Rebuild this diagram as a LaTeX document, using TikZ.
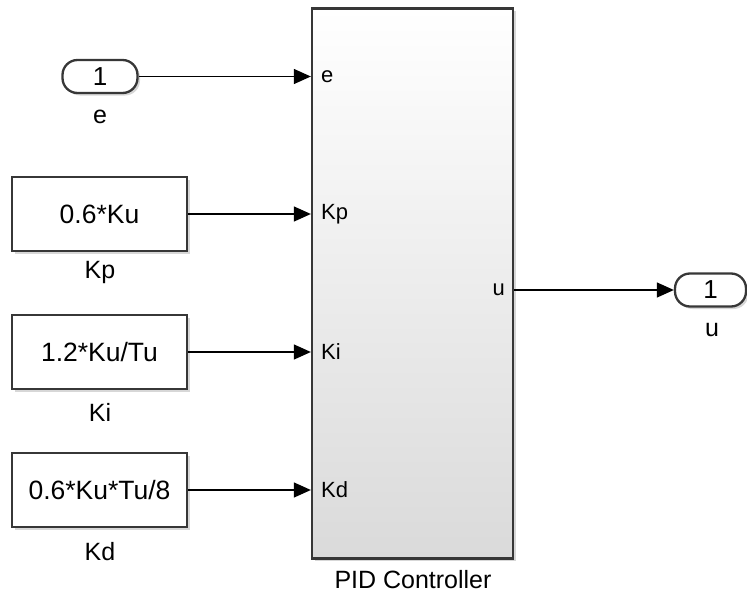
\documentclass[tikz,border=0pt]{standalone}
\usepackage{fontspec}
\setmainfont{Liberation Sans}
\usetikzlibrary{arrows.meta,shadows}
\definecolor{blkborder}{RGB}{55,55,55}
\definecolor{pidbottom}{RGB}{218,218,218}
\tikzset{
  shad/.style={drop shadow={shadow xshift=2.5pt,shadow yshift=-2.5pt,opacity=0.35,fill=black!45}},
  constblk/.style={draw=blkborder,line width=2.3pt,fill=white,shad,minimum width=175pt,minimum height=74pt,inner sep=0pt,font=\fontsize{26.5}{31}\selectfont},
  portblk/.style={draw=blkborder,line width=2.3pt,fill=white,shad,rounded corners=15pt,minimum width=75pt,minimum height=33pt,inner sep=0pt,font=\fontsize{26}{30}\selectfont},
  pidblk/.style={draw=blkborder,line width=2.3pt,top color=white,bottom color=pidbottom,shad,minimum width=201pt,minimum height=550pt,inner sep=0pt},
  lbl/.style={font=\fontsize{25}{30}\selectfont,inner sep=0pt},
  plbl/.style={font=\fontsize{22}{26}\selectfont,inner sep=0pt},
  conn/.style={line width=1.3pt,-{Triangle[length=17pt,width=15pt]}}
}
\begin{document}
\begin{tikzpicture}[x=1pt,y=-1pt]
\useasboundingbox (0,0) rectangle (747,594);
% PID block
\node[pidblk] (pid) at (412.5,283.5) {};
\node[lbl] (pidl) at (413,580) {PID Controller};
% port labels inside
\node[plbl,anchor=west] (pe) at (321,77) {e};
\node[plbl,anchor=west] (pkp) at (321,214) {Kp};
\node[plbl,anchor=west] (pki) at (321,352) {Ki};
\node[plbl,anchor=west] (pkd) at (321,490) {Kd};
\node[plbl,anchor=east] (pu) at (505,290) {u};
% inport
\node[portblk] (ine) at (100,76.5) {1};
\node[lbl] (inel) at (100,117) {e};
% constants
\node[constblk] (kp) at (99.5,214) {0.6*Ku};
\node[lbl] (kpl) at (100,272) {Kp};
\node[constblk] (ki) at (99.5,352) {1.2*Ku/Tu};
\node[lbl] (kil) at (100,412) {Ki};
\node[constblk] (kd) at (99.5,490) {0.6*Ku*Tu/8};
\node[lbl] (kdl) at (100,552) {Kd};
% outport
\node[portblk,minimum width=71pt] (outu) at (710.5,290) {1};
\node[lbl] (outul) at (712,330) {u};
% connectors
\draw[conn] (ine.east) -- (ine.east -| pid.west);
\draw[conn] (kp.east) -- (kp.east -| pid.west);
\draw[conn] (ki.east) -- (ki.east -| pid.west);
\draw[conn] (kd.east) -- (kd.east -| pid.west);
\draw[conn] (outu.west -| pid.east) -- (outu.west);
\end{tikzpicture}
\end{document}
